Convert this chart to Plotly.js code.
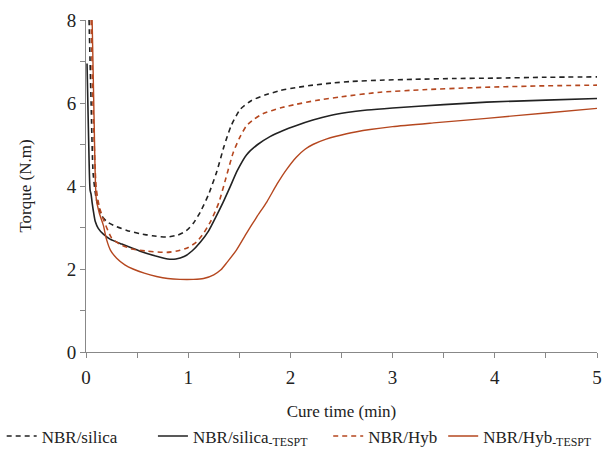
<!DOCTYPE html>
<html>
<head>
<meta charset="utf-8">
<script src="https://cdn.plot.ly/plotly-3.0.1.min.js"></script>
<style>html,body{margin:0;padding:0;background:#fff;}#chart{width:613px;height:450px;}</style>
</head>
<body>
<div id="chart"></div>
<script>
// NBR/silica (black dashed)
const silicaT = [0.03, 0.05, 0.07, 0.10, 0.15, 0.20, 0.27, 0.40, 0.53, 0.65, 0.79, 0.90, 0.98, 1.05, 1.12, 1.20, 1.28, 1.35, 1.42, 1.51, 1.62, 1.75, 1.90, 2.05, 2.22, 2.40, 2.60, 2.88, 3.20, 3.60, 4.00, 4.50, 5.00];
const silicaY = [8.0, 6.0, 4.3, 3.7, 3.3, 3.15, 3.05, 2.93, 2.85, 2.80, 2.77, 2.82, 2.92, 3.10, 3.38, 3.80, 4.35, 4.95, 5.45, 5.85, 6.06, 6.19, 6.30, 6.37, 6.43, 6.48, 6.52, 6.55, 6.57, 6.59, 6.60, 6.62, 6.63];

// NBR/silica-TESPT (black solid)
const silicaTesptT = [0.01, 0.025, 0.04, 0.05, 0.06, 0.075, 0.09, 0.12, 0.17, 0.235, 0.35, 0.53, 0.70, 0.80, 0.88, 0.96, 1.04, 1.12, 1.20, 1.27, 1.34, 1.41, 1.48, 1.57, 1.68, 1.80, 1.93, 2.06, 2.22, 2.39, 2.55, 2.75, 3.00, 3.50, 3.92, 4.50, 5.00];
const silicaTesptY = [6.95, 5.2, 3.9, 3.8, 3.6, 3.35, 3.15, 2.98, 2.84, 2.72, 2.6, 2.43, 2.3, 2.24, 2.24, 2.3, 2.44, 2.65, 2.92, 3.25, 3.6, 3.98, 4.37, 4.75, 5.0, 5.19, 5.34, 5.46, 5.59, 5.7, 5.77, 5.83, 5.88, 5.96, 6.02, 6.07, 6.11];

// NBR/Hyb (brown dashed)
const hybT = [0.05, 0.07, 0.10, 0.13, 0.17, 0.25, 0.33, 0.45, 0.60, 0.79, 0.92, 1.00, 1.08, 1.15, 1.22, 1.30, 1.37, 1.44, 1.50, 1.57, 1.65, 1.73, 1.90, 2.06, 2.25, 2.50, 2.88, 3.30, 3.80, 4.40, 5.00];
const hybY = [8.0, 5.8, 3.95, 3.5, 3.2, 2.75, 2.6, 2.48, 2.43, 2.4, 2.45, 2.52, 2.65, 2.86, 3.15, 3.6, 4.2, 4.8, 5.15, 5.45, 5.62, 5.74, 5.88, 5.97, 6.06, 6.15, 6.26, 6.32, 6.37, 6.41, 6.43];

// NBR/Hyb-TESPT (brown solid)
const hybTesptT = [0.06, 0.08, 0.10, 0.13, 0.17, 0.20, 0.24, 0.30, 0.38, 0.46, 0.57, 0.69, 0.80, 0.92, 1.05, 1.15, 1.25, 1.32, 1.38, 1.47, 1.57, 1.67, 1.77, 1.87, 1.96, 2.06, 2.14, 2.22, 2.35, 2.55, 2.78, 3.00, 3.40, 3.92, 4.50, 5.00];
const hybTesptY = [8.0, 5.5, 3.7, 3.35, 3.05, 2.72, 2.45, 2.26, 2.1, 2.0, 1.9, 1.82, 1.77, 1.75, 1.75, 1.77, 1.86, 1.98, 2.16, 2.45, 2.86, 3.25, 3.62, 4.05, 4.39, 4.7, 4.88, 5.0, 5.13, 5.26, 5.36, 5.43, 5.52, 5.63, 5.76, 5.87];

const xTicks = [0, 1, 2, 3, 4, 5];
const yTicks = [0, 2, 4, 6, 8];

const BLACK = '#222222';
const BROWN = '#b5471f';
const DASH = '5px,4px';

const traces = [
  {x: silicaT, y: silicaY, name: 'NBR/silica', mode: 'lines', legend: 'legend',
   line: {color: BLACK, width: 1.6, dash: DASH, shape: 'spline', smoothing: 0.6}},
  {x: silicaTesptT, y: silicaTesptY, name: 'NBR/silica<sub>-TESPT</sub>', mode: 'lines', legend: 'legend2',
   line: {color: BLACK, width: 1.6, shape: 'spline', smoothing: 0.6}},
  {x: hybT, y: hybY, name: 'NBR/Hyb', mode: 'lines', legend: 'legend3',
   line: {color: BROWN, width: 1.6, dash: DASH, shape: 'spline', smoothing: 0.6}},
  {x: hybTesptT, y: hybTesptY, name: 'NBR/Hyb<sub>-TESPT</sub>', mode: 'lines', legend: 'legend4',
   line: {color: BROWN, width: 1.4, shape: 'spline', smoothing: 0.6}}
];

const FONT = 'Times New Roman';

function legendAt(x) {
  return {orientation: 'h', x: x, xanchor: 'left', y: -0.2, yanchor: 'top',
          font: {family: FONT, size: 17, color: '#222'}, itemwidth: 30,
          bgcolor: 'rgba(0,0,0,0)'};
}

const layout = {
  width: 613, height: 450,
  margin: {l: 86, r: 16, t: 20, b: 98, autoexpand: false},
  paper_bgcolor: '#fff', plot_bgcolor: '#fff',
  font: {family: FONT, size: 17, color: '#222'},
  showlegend: true,
  legend: legendAt(-0.165),
  legend2: legendAt(0.131),
  legend3: legendAt(0.474),
  legend4: legendAt(0.699),
  xaxis: {
    range: [0, 5], tickvals: xTicks, ticktext: xTicks.map(String),
    showgrid: false, zeroline: false, showline: true, linecolor: '#888', linewidth: 1,
    ticks: 'outside', ticklen: 5, tickcolor: '#888', ticklabelstandoff: 3,
    minor: {dtick: 0.5, ticks: 'outside', ticklen: 5, tickcolor: '#888', showgrid: false},
    tickfont: {family: FONT, size: 19, color: '#222'},
    title: {text: 'Cure time (min)', font: {family: FONT, size: 17, color: '#222'}, standoff: 18}
  },
  yaxis: {
    range: [0, 8], tickvals: yTicks, ticktext: yTicks.map(String),
    showgrid: false, zeroline: false, showline: true, linecolor: '#888', linewidth: 1,
    ticks: 'outside', ticklen: 5, tickcolor: '#888',
    minor: {dtick: 1, ticks: 'outside', ticklen: 5, tickcolor: '#888', showgrid: false},
    tickfont: {family: FONT, size: 19, color: '#222'},
    title: {text: 'Torque (N.m)', font: {family: FONT, size: 17, color: '#222'}, standoff: 30}
  }
};

Plotly.newPlot('chart', traces, layout, {displayModeBar: false, staticPlot: true});
</script>
</body>
</html>
